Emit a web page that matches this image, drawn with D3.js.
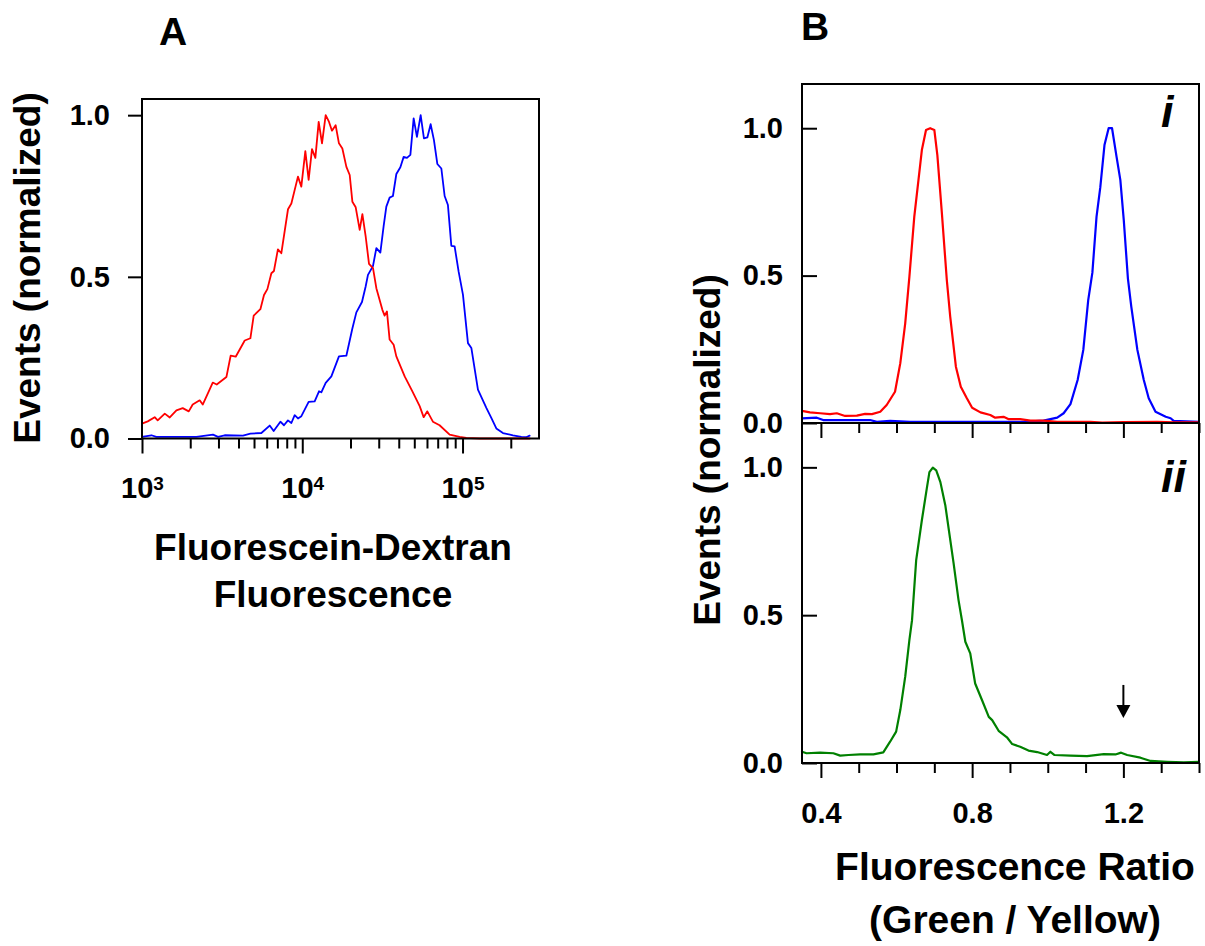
<!DOCTYPE html>
<html>
<head>
<meta charset="utf-8">
<script src="https://cdn.jsdelivr.net/npm/d3@7"></script>
<style>
  html, body { margin: 0; padding: 0; background: #fff; }
  svg { display: block; font-family: "Liberation Sans", Arial, sans-serif; font-weight: bold; }
  .frame { fill: none; stroke: #000; stroke-width: 2; }
  .axis path { display: none; }
  .axis line { stroke: #000; stroke-width: 2; }
  .axis text { fill: #000; }
  .trace { fill: none; stroke-linejoin: round; stroke-linecap: round; }
</style>
</head>
<body>
<svg id="chart" width="1205" height="946"></svg>
<script>
// ---- panel A: fluorescein-dextran histograms (fluorescence, normalized events)
const dextranRed = [
  [1000, 0.046], [1086, 0.053], [1200, 0.066], [1253, 0.056], [1387, 0.077], [1490, 0.065],
  [1640, 0.087], [1795, 0.094], [1958, 0.084], [2072, 0.105], [2291, 0.118], [2393, 0.105],
  [2572, 0.139], [2763, 0.173], [2926, 0.167], [3362, 0.19], [3574, 0.256], [3843, 0.253],
  [4375, 0.303], [4745, 0.31], [4977, 0.38], [5479, 0.4], [5771, 0.444], [6058, 0.462],
  [6415, 0.511], [6655, 0.518], [7047, 0.585], [7404, 0.573], [8147, 0.709], [8551, 0.727],
  [9399, 0.81], [9865, 0.779], [10450, 0.889], [10960, 0.8], [11500, 0.895], [12070, 0.868],
  [12660, 0.979], [13280, 0.913], [14000, 1.0], [14690, 0.979], [15320, 0.952], [16150, 0.969],
  [16940, 0.913], [17790, 0.897], [18850, 0.84], [19770, 0.815], [20550, 0.732], [21550, 0.715],
  [22820, 0.645], [23720, 0.694], [24880, 0.624], [26090, 0.54], [27630, 0.527], [28990, 0.465],
  [31610, 0.398], [32650, 0.38], [33750, 0.393], [35080, 0.306], [37170, 0.29], [38630, 0.254],
  [43550, 0.192], [48650, 0.146], [54020, 0.1], [57200, 0.066], [60300, 0.084], [65330, 0.052],
  [71900, 0.041], [83100, 0.012], [96000, 0.005], [105600, 0.002], [127900, 0], [200000, 0],
  [262500, 0],
];

const dextranBlue = [
  [1000, 0.005], [1145, 0.01], [1229, 0.005], [1639, 0.005], [2185, 0.005], [2774, 0.012],
  [2980, 0.005], [3281, 0.01], [4267, 0.009], [4745, 0.015], [5558, 0.017], [6262, 0.04],
  [6631, 0.023], [7302, 0.052], [7689, 0.041], [8143, 0.056], [8551, 0.048], [8968, 0.072],
  [9402, 0.062], [9872, 0.069], [10960, 0.113], [11950, 0.115], [12720, 0.146], [13150, 0.143],
  [14000, 0.172], [15190, 0.192], [16940, 0.254], [18840, 0.256], [20540, 0.34], [21750, 0.39],
  [23580, 0.422], [24860, 0.47], [25700, 0.506], [27610, 0.533], [28990, 0.589], [30700, 0.575],
  [32190, 0.657], [33460, 0.717], [35090, 0.745], [36790, 0.75], [38640, 0.818], [40930, 0.839],
  [42920, 0.871], [45000, 0.868], [47260, 0.877], [49550, 0.99], [51940, 0.933], [54790, 1.0],
  [57440, 0.928], [60320, 0.931], [63240, 0.972], [66310, 0.923], [69630, 0.849], [73760, 0.835],
  [77320, 0.75], [81080, 0.722], [85130, 0.596], [89260, 0.594], [94560, 0.516], [100600, 0.445],
  [108100, 0.295], [113500, 0.28], [124800, 0.151], [140800, 0.095], [151200, 0.064],
  [162500, 0.031], [178700, 0.017], [206300, 0.01], [232700, 0.005], [250000, 0.004],
  [262200, 0.009],
];

const aMajorTicks = [1e3, 1e4, 1e5];
const aMinorTicks = [2e3, 3e3, 4e3, 5e3, 6e3, 7e3, 8e3, 9e3, 2e4, 3e4, 4e4, 5e4, 6e4, 7e4, 8e4, 9e4, 2e5];
const yTicks = [0, 0.5, 1.0];

// ---- panel B: green / yellow ratio histograms
const ratioRed = [
  [0.35, 0.041], [0.371, 0.036], [0.398, 0.033], [0.424, 0.03], [0.442, 0.033], [0.464, 0.024],
  [0.495, 0.025], [0.517, 0.031], [0.535, 0.03], [0.557, 0.038], [0.574, 0.061], [0.596, 0.106],
  [0.61, 0.203], [0.623, 0.338], [0.634, 0.496], [0.647, 0.7], [0.658, 0.824], [0.667, 0.926],
  [0.678, 0.994], [0.689, 1.0], [0.7, 0.994], [0.708, 0.909], [0.72, 0.711], [0.733, 0.485],
  [0.742, 0.361], [0.757, 0.191], [0.77, 0.123], [0.786, 0.084], [0.8, 0.052], [0.822, 0.036],
  [0.848, 0.027], [0.861, 0.018], [0.883, 0.021], [0.897, 0.013], [0.927, 0.013], [0.954, 0.008],
  [0.989, 0.008], [1.025, 0.004], [1.113, 0.004], [1.144, 0.001], [1.201, 0.003], [1.29, 0.004],
  [1.334, 0.002], [1.4, 0.002],
];

const ratioBlue = [
  [0.35, 0.016], [0.389, 0.018], [0.406, 0.01], [0.459, 0.01], [0.53, 0.01], [0.548, 0.004],
  [0.583, 0.007], [0.636, 0.004], [0.76, 0.004], [0.936, 0.004], [0.989, 0.008], [1.025, 0.018],
  [1.042, 0.033], [1.06, 0.064], [1.079, 0.146], [1.094, 0.248], [1.107, 0.417], [1.118, 0.51],
  [1.129, 0.7], [1.139, 0.8], [1.15, 0.943], [1.161, 1.0], [1.17, 1.0], [1.182, 0.903],
  [1.192, 0.824], [1.201, 0.689], [1.212, 0.49], [1.221, 0.394], [1.237, 0.248], [1.254, 0.146],
  [1.267, 0.084], [1.285, 0.038], [1.312, 0.021], [1.325, 0.016], [1.333, 0.007], [1.4, 0.004],
];

const ratioGreen = [
  [0.35, 0.038], [0.362, 0.033], [0.398, 0.035], [0.433, 0.033], [0.451, 0.025], [0.473, 0.027],
  [0.504, 0.029], [0.539, 0.029], [0.565, 0.036], [0.583, 0.072], [0.599, 0.106], [0.61, 0.179],
  [0.623, 0.292], [0.634, 0.416], [0.641, 0.483], [0.652, 0.686], [0.667, 0.821], [0.68, 0.928],
  [0.687, 0.984], [0.696, 0.999], [0.705, 0.99], [0.716, 0.95], [0.729, 0.872], [0.751, 0.675],
  [0.764, 0.551], [0.773, 0.483], [0.782, 0.41], [0.795, 0.371], [0.808, 0.269], [0.826, 0.213],
  [0.844, 0.156], [0.853, 0.145], [0.87, 0.109], [0.892, 0.087], [0.906, 0.064], [0.927, 0.055],
  [0.949, 0.042], [0.972, 0.037], [0.998, 0.027], [1.007, 0.038], [1.018, 0.027], [1.06, 0.025],
  [1.104, 0.023], [1.148, 0.03], [1.179, 0.029], [1.194, 0.035], [1.21, 0.027], [1.245, 0.018],
  [1.272, 0.007], [1.316, 0.004], [1.36, 0.002], [1.4, 0.004],
];

const bMajorTicks = [0.4, 0.8, 1.2];
const bMinorTicks = [0.5, 0.6, 0.7, 0.9, 1.0, 1.1, 1.3, 1.4];

// arrow marking the ratio 1.2 shoulder in panel ii: [x, top, tip]
const arrowMark = [1.2, 0.264, 0.152];

const svg = d3.select("#chart");
const fmt = d3.format(".1f");

function drawTrace(g, data, x, y, color, width) {
  const line = d3.line().x((d) => x(d[0])).y((d) => y(d[1]));
  g.append("path")
    .datum(data)
    .attr("class", "trace")
    .attr("stroke", color)
    .attr("stroke-width", width)
    .attr("d", line);
}

function frame(x, y) {
  const [x0, x1] = x.range();
  const [y0, y1] = y.range();
  svg.append("rect")
    .attr("class", "frame")
    .attr("x", x0)
    .attr("y", y1)
    .attr("width", x1 - x0)
    .attr("height", y0 - y1);
}

function bottomTicks(x, y0, major, minor, labels) {
  const g = svg.append("g")
    .attr("class", "axis")
    .attr("transform", `translate(0,${y0})`);
  g.append("g")
    .call(d3.axisBottom(x).tickValues(minor).tickSize(10).tickFormat(""));
  const gMajor = g.append("g")
    .call(d3.axisBottom(x).tickValues(major).tickSize(15).tickFormat(labels ? fmt : ""));
  gMajor.attr("font-size", 29).attr("font-family", null);
  gMajor.selectAll("text").attr("y", 60).attr("dy", null);
  return gMajor;
}

// ---------------- panel A
const ax = d3.scaleLog().domain([1e3, 3e5]).range([142, 539]);
const ay = d3.scaleLinear().domain([0, 1.05]).range([438.5, 99]);

drawTrace(svg.append("g"), dextranBlue, ax, ay, "#0000ff", 1.8);
drawTrace(svg.append("g"), dextranRed, ax, ay, "#ff0000", 1.8);
frame(ax, ay);

svg.append("g")
  .attr("class", "axis")
  .attr("transform", "translate(142,0)")
  .call(d3.axisLeft(ay).tickValues(yTicks).tickSize(14).tickPadding(18).tickFormat(fmt))
  .attr("font-size", 29)
  .attr("font-family", null);

const aX = bottomTicks(ax, 438.5, aMajorTicks, aMinorTicks, true);
aX.selectAll("text")
  .attr("y", 59.5)
  .each(function (d) {
    const t = d3.select(this).text("10");
    t.append("tspan")
      .attr("font-size", 19)
      .attr("dy", -8)
      .text(Math.round(Math.log10(d)));
  });

svg.append("text")
  .attr("x", 173).attr("y", 45)
  .attr("text-anchor", "middle")
  .attr("font-size", 39)
  .text("A");

svg.append("text")
  .attr("transform", "translate(40,268) rotate(-90)")
  .attr("text-anchor", "middle")
  .attr("font-size", 37)
  .text("Events (normalized)");

svg.append("text")
  .attr("text-anchor", "middle")
  .attr("font-size", 37)
  .call((t) => t.append("tspan").attr("x", 333).attr("y", 560).text("Fluorescein-Dextran"))
  .call((t) => t.append("tspan").attr("x", 333).attr("y", 607).text("Fluorescence"));

// ---------------- panel B
const bx = d3.scaleLinear().domain([0.35, 1.4]).range([802, 1199]);
const byTop = d3.scaleLinear().domain([0, 1.15]).range([423, 84]);
const byBot = d3.scaleLinear().domain([0, 1.15]).range([763, 423]);

drawTrace(svg.append("g"), ratioBlue, bx, byTop, "#0000ff", 2.2);
drawTrace(svg.append("g"), ratioRed, bx, byTop, "#ff0000", 2.2);
drawTrace(svg.append("g"), ratioGreen, bx, byBot, "#008000", 2.2);
frame(bx, byTop);
frame(bx, byBot);

[byTop, byBot].forEach((y) => {
  svg.append("g")
    .attr("class", "axis")
    .attr("transform", "translate(802,0)")
    .call(d3.axisLeft(y).tickValues(yTicks).tickSize(-15).tickPadding(19).tickFormat(fmt))
    .attr("font-size", 29)
    .attr("font-family", null);
});

bottomTicks(bx, 423, bMajorTicks, bMinorTicks, false);
bottomTicks(bx, 763, bMajorTicks, bMinorTicks, true);

// arrow
const [arX, arTop, arTip] = arrowMark;
const tipX = bx(arX), tipY = byBot(arTip);
svg.append("line")
  .attr("x1", tipX).attr("x2", tipX)
  .attr("y1", byBot(arTop)).attr("y2", tipY - 8)
  .attr("stroke", "#000").attr("stroke-width", 2);
svg.append("path")
  .attr("d", `M${tipX},${tipY}L${tipX - 7},${tipY - 13}L${tipX + 7},${tipY - 13}Z`)
  .attr("fill", "#000");

svg.append("text")
  .attr("x", 815).attr("y", 40)
  .attr("text-anchor", "middle")
  .attr("font-size", 39)
  .text("B");

svg.selectAll(".sub")
  .data([["i", 127], ["ii", 492]])
  .join("text")
  .attr("class", "sub")
  .attr("x", 1161)
  .attr("y", (d) => d[1])
  .attr("font-size", 45)
  .attr("font-style", "italic")
  .text((d) => d[0]);

svg.append("text")
  .attr("transform", "translate(720,450) rotate(-90)")
  .attr("text-anchor", "middle")
  .attr("font-size", 37)
  .text("Events (normalized)");

svg.append("text")
  .attr("text-anchor", "middle")
  .attr("font-size", 39)
  .call((t) => t.append("tspan").attr("x", 1015).attr("y", 880).text("Fluorescence Ratio"))
  .call((t) => t.append("tspan").attr("x", 1015).attr("y", 933).text("(Green / Yellow)"));
</script>
</body>
</html>
